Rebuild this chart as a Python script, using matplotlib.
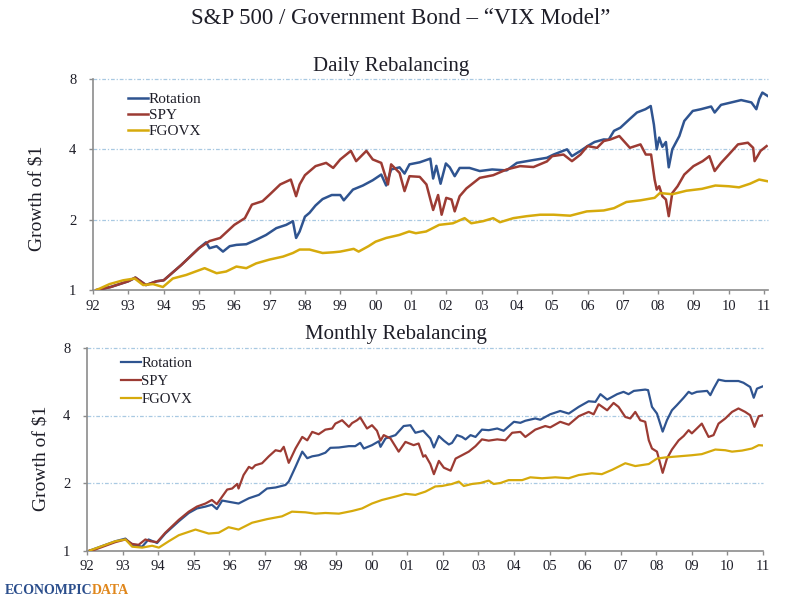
import matplotlib
matplotlib.use("Agg")
import matplotlib.pyplot as plt
from matplotlib.ticker import NullLocator, FixedLocator, FixedFormatter

plt.rcParams['font.family'] = ['Liberation Serif', 'DejaVu Serif']

# ---------------- Daily rebalancing (top) ----------------
rot_d_t = [1992.1, 1992.5, 1993.0, 1993.2, 1993.5, 1993.8, 1994.0, 1994.5, 1995.0, 1995.2,
           1995.3, 1995.5, 1995.68, 1995.87, 1996.06, 1996.34, 1996.62, 1996.9, 1997.19, 1997.47,
           1997.66, 1997.75, 1997.85, 1998.0, 1998.13, 1998.3, 1998.5, 1998.76, 1999.0, 1999.1,
           1999.36, 1999.64, 1999.92, 2000.16, 2000.3, 2000.44, 2000.68, 2000.82, 2000.96, 2001.25,
           2001.55, 2001.63, 2001.72, 2001.84, 2001.99, 2002.1, 2002.24, 2002.38, 2002.66, 2002.95,
           2003.3, 2003.71, 2004.0, 2004.47, 2004.85, 2005.04, 2005.42, 2005.56, 2005.8, 2006.0,
           2006.2, 2006.46, 2006.6, 2006.75, 2006.93, 2007.2, 2007.4, 2007.64, 2007.79, 2007.88,
           2007.96, 2008.03, 2008.12, 2008.22, 2008.3, 2008.4, 2008.6, 2008.74, 2008.98, 2009.21,
           2009.5, 2009.6, 2009.78, 2010.07, 2010.35, 2010.64, 2010.78, 2010.86, 2010.95, 2011.1]
rot_d_v = [1.00, 1.03, 1.09, 1.13, 1.05, 1.09, 1.10, 1.28, 1.51, 1.60,
           1.51, 1.54, 1.46, 1.54, 1.56, 1.57, 1.64, 1.72, 1.84, 1.90,
           1.97, 1.67, 1.78, 2.06, 2.14, 2.30, 2.45, 2.55, 2.55, 2.42,
           2.69, 2.80, 2.95, 3.12, 2.80, 3.28, 3.35, 3.15, 3.45, 3.52,
           3.65, 3.00, 3.40, 2.85, 3.48, 3.35, 3.07, 3.33, 3.33, 3.23,
           3.28, 3.25, 3.50, 3.60, 3.68, 3.80, 4.00, 3.74, 3.94, 4.13,
           4.30, 4.41, 4.40, 4.80, 4.95, 5.40, 5.75, 5.94, 6.13, 5.10,
           4.00, 4.49, 4.10, 4.30, 3.35, 4.00, 4.56, 5.29, 5.84, 5.94,
           6.10, 5.75, 6.20, 6.35, 6.50, 6.35, 5.94, 6.56, 7.00, 6.77]

spy_d_t = [1992.1, 1992.5, 1993.0, 1993.2, 1993.5, 1993.8, 1994.0, 1994.5, 1995.0, 1995.3,
           1995.6, 1996.0, 1996.3, 1996.5, 1996.8, 1997.0, 1997.3, 1997.6, 1997.75, 1997.85,
           1998.0, 1998.3, 1998.6, 1998.8, 1999.0, 1999.3, 1999.45, 1999.74, 1999.92, 2000.16,
           2000.35, 2000.44, 2000.68, 2000.82, 2000.96, 2001.25, 2001.44, 2001.63, 2001.77, 2001.87,
           2002.0, 2002.15, 2002.24, 2002.38, 2002.57, 2002.95, 2003.33, 2003.71, 2004.09, 2004.47,
           2004.85, 2005.0, 2005.32, 2005.56, 2005.8, 2006.0, 2006.27, 2006.46, 2006.65, 2006.9,
           2007.2, 2007.5, 2007.65, 2007.8, 2007.9, 2007.96, 2008.03, 2008.12, 2008.22, 2008.3,
           2008.4, 2008.55, 2008.74, 2009.0, 2009.26, 2009.45, 2009.6, 2009.78, 2010.0, 2010.26,
           2010.54, 2010.69, 2010.73, 2010.9, 2011.07]
spy_d_v = [1.00, 1.03, 1.09, 1.13, 1.05, 1.09, 1.10, 1.28, 1.51, 1.62,
           1.67, 1.90, 2.03, 2.32, 2.40, 2.56, 2.83, 2.97, 2.52, 2.83,
           3.10, 3.39, 3.50, 3.33, 3.62, 3.94, 3.56, 3.94, 3.62, 3.50,
           2.83, 3.45, 3.17, 2.65, 3.07, 3.05, 2.83, 2.20, 2.55, 2.10,
           2.48, 2.44, 2.17, 2.52, 2.72, 3.02, 3.10, 3.28, 3.39, 3.36,
           3.55, 3.74, 3.80, 3.56, 3.80, 4.13, 4.06, 4.34, 4.41, 4.56,
           4.06, 4.20, 3.80, 3.80, 2.97, 2.69, 2.78, 2.52, 2.44, 2.07,
           2.60, 2.78, 3.12, 3.39, 3.56, 3.74, 3.23, 3.50, 3.80, 4.20,
           4.27, 4.06, 3.56, 3.94, 4.13]

gov_d_t = [1992.1, 1992.47, 1992.85, 1993.18, 1993.42, 1993.7, 1993.98, 1994.26, 1994.64, 1995.16,
           1995.5, 1995.77, 1996.06, 1996.34, 1996.62, 1997.0, 1997.38, 1997.66, 1997.85, 1998.13,
           1998.5, 1998.8, 1999.0, 1999.38, 1999.52, 1999.8, 2000.0, 2000.3, 2000.67, 2000.95,
           2001.14, 2001.43, 2001.8, 2002.19, 2002.52, 2002.71, 2003.04, 2003.33, 2003.52, 2003.9,
           2004.28, 2004.66, 2005.04, 2005.51, 2005.98, 2006.46, 2006.75, 2007.1, 2007.5, 2007.9,
           2008.05, 2008.4, 2008.8, 2009.24, 2009.62, 2010.0, 2010.29, 2010.6, 2010.86, 2011.1]
gov_d_v = [1.00, 1.06, 1.10, 1.12, 1.05, 1.06, 1.03, 1.12, 1.16, 1.24,
           1.18, 1.20, 1.26, 1.24, 1.30, 1.35, 1.39, 1.44, 1.49, 1.49,
           1.44, 1.45, 1.46, 1.50, 1.46, 1.54, 1.61, 1.67, 1.72, 1.78,
           1.75, 1.78, 1.90, 1.93, 2.03, 1.93, 1.97, 2.03, 1.95, 2.03,
           2.07, 2.10, 2.10, 2.08, 2.17, 2.19, 2.24, 2.38, 2.42, 2.48,
           2.60, 2.57, 2.66, 2.71, 2.80, 2.78, 2.75, 2.85, 2.97, 2.92]

# ---------------- Monthly rebalancing (bottom) ----------------
rot_m_t = [1992.08, 1992.52, 1992.8, 1993.08, 1993.27, 1993.55, 1993.73, 1993.97, 1994.2, 1994.58,
           1994.86, 1995.09, 1995.33, 1995.51, 1995.65, 1995.8, 1995.98, 1996.26, 1996.55, 1996.83,
           1997.06, 1997.3, 1997.58, 1997.67, 1997.86, 1998.05, 1998.19, 1998.33, 1998.51, 1998.7,
           1998.84, 1999.08, 1999.36, 1999.54, 1999.68, 1999.78, 2000.01, 2000.2, 2000.25, 2000.39,
           2000.67, 2000.9, 2001.09, 2001.23, 2001.45, 2001.65, 2001.75, 2001.89, 2002.03, 2002.17,
           2002.26, 2002.4, 2002.54, 2002.64, 2002.78, 2002.92, 2003.1, 2003.29, 2003.53, 2003.71,
           2004.0, 2004.18, 2004.32, 2004.6, 2004.74, 2005.02, 2005.3, 2005.54, 2005.82, 2006.1,
           2006.29, 2006.43, 2006.62, 2006.9, 2007.08, 2007.22, 2007.37, 2007.69, 2007.77, 2007.88,
           2008.02, 2008.18, 2008.3, 2008.44, 2008.58, 2008.77, 2008.91, 2009.0, 2009.14, 2009.43,
           2009.52, 2009.61, 2009.75, 2009.94, 2010.31, 2010.45, 2010.64, 2010.74, 2010.83, 2011.0]
rot_m_v = [1.00, 1.06, 1.10, 1.13, 1.06, 1.04, 1.12, 1.08, 1.19, 1.35,
           1.47, 1.54, 1.57, 1.60, 1.53, 1.67, 1.65, 1.62, 1.71, 1.77,
           1.89, 1.91, 1.96, 2.03, 2.36, 2.76, 2.58, 2.63, 2.66, 2.73,
           2.87, 2.88, 2.92, 2.92, 3.02, 2.85, 2.95, 3.07, 2.90, 3.16,
           3.27, 3.59, 3.62, 3.35, 3.42, 3.16, 2.88, 3.24, 3.09, 2.97,
           3.02, 3.27, 3.21, 3.13, 3.27, 3.21, 3.46, 3.44, 3.50, 3.42,
           3.75, 3.71, 3.79, 3.88, 3.83, 4.05, 4.19, 4.08, 4.37, 4.63,
           4.60, 4.98, 4.71, 4.98, 5.10, 4.98, 5.15, 5.22, 5.19, 4.37,
           4.08, 3.39, 3.81, 4.22, 4.45, 4.80, 5.10, 5.00, 5.10, 5.15,
           4.93, 5.27, 5.78, 5.70, 5.70, 5.60, 5.36, 4.80, 5.27, 5.40]

spy_m_t = [1992.08, 1992.23, 1992.52, 1992.8, 1993.08, 1993.27, 1993.45, 1993.64, 1993.78, 1993.97,
           1994.2, 1994.58, 1994.86, 1995.09, 1995.33, 1995.51, 1995.65, 1995.8, 1995.94, 1996.08,
           1996.22, 1996.26, 1996.4, 1996.55, 1996.64, 1996.73, 1996.92, 1997.11, 1997.3, 1997.44,
           1997.53, 1997.67, 1997.86, 1998.05, 1998.19, 1998.33, 1998.51, 1998.7, 1998.89, 1998.98,
           1999.17, 1999.36, 1999.45, 1999.59, 1999.68, 1999.87, 2000.01, 2000.15, 2000.25, 2000.34,
           2000.53, 2000.76, 2000.95, 2001.18, 2001.32, 2001.45, 2001.51, 2001.65, 2001.75, 2001.89,
           2002.03, 2002.22, 2002.36, 2002.54, 2002.73, 2002.92, 2003.1, 2003.29, 2003.53, 2003.76,
           2003.95, 2004.18, 2004.32, 2004.6, 2004.88, 2005.02, 2005.3, 2005.54, 2005.82, 2006.1,
           2006.24, 2006.38, 2006.62, 2006.8, 2006.94, 2007.13, 2007.27, 2007.41, 2007.55, 2007.69,
           2007.79, 2007.88, 2008.02, 2008.18, 2008.3, 2008.44, 2008.63, 2008.77, 2008.91, 2009.0,
           2009.14, 2009.28, 2009.47, 2009.61, 2009.75, 2009.94, 2010.13, 2010.31, 2010.5, 2010.64,
           2010.76, 2010.88, 2011.0]
spy_m_v = [1.00, 1.01, 1.05, 1.09, 1.12, 1.07, 1.06, 1.12, 1.10, 1.09,
           1.20, 1.37, 1.49, 1.57, 1.62, 1.68, 1.61, 1.74, 1.87, 1.89,
           1.98, 1.89, 2.17, 2.36, 2.32, 2.40, 2.45, 2.63, 2.80, 2.77,
           2.90, 2.46, 2.85, 3.21, 3.10, 3.38, 3.30, 3.46, 3.50, 3.68,
           3.81, 3.56, 3.70, 3.81, 3.92, 3.50, 3.62, 3.42, 3.09, 3.27,
           3.16, 2.76, 3.05, 2.95, 3.00, 2.62, 2.66, 2.43, 2.19, 2.51,
           2.34, 2.27, 2.57, 2.66, 2.76, 2.92, 3.13, 3.09, 3.13, 3.10,
           3.35, 3.38, 3.21, 3.46, 3.59, 3.54, 3.75, 3.64, 3.97, 4.15,
           4.05, 4.49, 4.22, 4.55, 4.37, 3.94, 3.88, 4.15, 3.81, 3.75,
           3.10, 2.85, 2.76, 2.22, 2.57, 2.82, 3.10, 3.24, 3.44, 3.33,
           3.50, 3.68, 3.21, 3.27, 3.68, 3.88, 4.15, 4.30, 4.15, 4.01,
           3.56, 3.97, 4.01]

gov_m_t = [1992.08, 1992.52, 1992.8, 1993.08, 1993.27, 1993.55, 1993.83, 1994.02, 1994.3, 1994.58,
           1995.05, 1995.42, 1995.7, 1995.98, 1996.26, 1996.64, 1997.06, 1997.48, 1997.76, 1998.14,
           1998.42, 1998.7, 1999.08, 1999.45, 1999.73, 2000.01, 2000.29, 2000.67, 2000.95, 2001.23,
           2001.51, 2001.79, 2001.98, 2002.26, 2002.45, 2002.59, 2002.82, 2003.06, 2003.29, 2003.43,
           2003.62, 2003.85, 2004.23, 2004.46, 2004.79, 2005.16, 2005.54, 2005.82, 2006.19, 2006.47,
           2006.76, 2007.13, 2007.41, 2007.79, 2008.02, 2008.25, 2008.63, 2009.0, 2009.28, 2009.66,
           2009.94, 2010.13, 2010.41, 2010.69, 2010.88, 2011.0]
gov_m_v = [1.00, 1.06, 1.10, 1.12, 1.04, 1.03, 1.05, 1.03, 1.10, 1.17,
           1.24, 1.19, 1.20, 1.27, 1.24, 1.33, 1.38, 1.42, 1.49, 1.48,
           1.46, 1.47, 1.46, 1.50, 1.54, 1.62, 1.68, 1.74, 1.79, 1.77,
           1.83, 1.93, 1.94, 1.98, 2.03, 1.94, 1.98, 2.00, 2.05, 1.98,
           2.00, 2.06, 2.06, 2.12, 2.10, 2.12, 2.10, 2.17, 2.21, 2.19,
           2.29, 2.45, 2.38, 2.43, 2.57, 2.60, 2.63, 2.66, 2.69, 2.82,
           2.80, 2.76, 2.79, 2.85, 2.95, 2.94]

series_names = ["Rotation", "SPY", "FGOVX"]
year_ticks = list(range(1992, 2012))
year_labels = ["%02d" % (y % 100) for y in year_ticks]
y_ticks = [1, 2, 4, 8]
y_labels = ["1", "2", "4", "8"]

C_ROT = "#2F5490"
C_SPY = "#9C3B33"
C_GOV = "#D6AA0C"
C_GRID = "#A9C9E2"
C_SPINE = "#8C8C8C"
C_TXT = "#1E1E28"

W, H = 800, 603
fig = plt.figure(figsize=(8.0, 6.03), dpi=100)
fig.patch.set_facecolor("white")


def px_axes(l, r, t, b):
    return fig.add_axes([l / W, 1 - b / H, (r - l) / W, (b - t) / H])


def style(ax, xmax):
    ax.set_yscale("log", base=2)
    ax.set_ylim(1, 8)
    ax.set_xlim(1992.0, xmax)
    ax.yaxis.set_major_locator(FixedLocator(y_ticks))
    ax.yaxis.set_major_formatter(FixedFormatter(y_labels))
    ax.yaxis.set_minor_locator(NullLocator())
    ax.xaxis.set_major_locator(FixedLocator(year_ticks))
    ax.xaxis.set_major_formatter(FixedFormatter(year_labels))
    ax.xaxis.set_minor_locator(NullLocator())
    for s in ["top", "right"]:
        ax.spines[s].set_visible(False)
    for s in ["left", "bottom"]:
        ax.spines[s].set_color(C_SPINE)
        ax.spines[s].set_linewidth(1.2)
    ax.tick_params(axis="both", direction="out", length=3, width=1, color=C_SPINE,
                   labelsize=10.5, labelcolor=C_TXT)
    ax.tick_params(axis="x", pad=4)
    ax.tick_params(axis="y", pad=9)
    for yv in [2, 4, 8]:
        ax.axhline(yv, color=C_GRID, lw=0.9, ls=(0, (3, 1.5, 1, 1.5)), zorder=0, clip_on=False)
    ax.set_ylabel("Growth of $1", fontsize=14, color=C_TXT)


# top axes
ax1 = px_axes(93, 768, 79, 290)
style(ax1, 2011.11)
ax1.plot(rot_d_t, rot_d_v, color=C_ROT, lw=1.8, label=series_names[0], zorder=3)
ax1.plot(spy_d_t, spy_d_v, color=C_SPY, lw=1.8, label=series_names[1], zorder=3)
ax1.plot(gov_d_t, gov_d_v, color=C_GOV, lw=1.8, label=series_names[2], zorder=3)
ax1.yaxis.set_label_coords(-0.07, 0.436)
ax1.legend(loc="upper left", bbox_to_anchor=(0.052, 0.937), frameon=False, fontsize=11,
           handlelength=1.3, handletextpad=0.05, borderpad=0, borderaxespad=0,
           labelspacing=0.15, labelcolor=C_TXT)

# bottom axes
ax2 = px_axes(87, 763, 348, 550.5)
style(ax2, 2011.0)
ax2.plot(rot_m_t, rot_m_v, color=C_ROT, lw=1.6, label=series_names[0], zorder=3)
ax2.plot(spy_m_t, spy_m_v, color=C_SPY, lw=1.6, label=series_names[1], zorder=3)
ax2.plot(gov_m_t, gov_m_v, color=C_GOV, lw=1.6, label=series_names[2], zorder=3)
ax2.yaxis.set_label_coords(-0.056, 0.457)
ax2.legend(loc="upper left", bbox_to_anchor=(0.05, 0.957), frameon=False, fontsize=10.6,
           handlelength=1.35, handletextpad=0.05, borderpad=0, borderaxespad=0,
           labelspacing=0.33, labelcolor=C_TXT)

# titles
fig.text(401 / W, 1 - 18 / H, "S&P 500 / Government Bond \u2013 \u201cVIX Model\u201d",
         ha="center", va="center", fontsize=16.5, color=C_TXT)
fig.text(391 / W, 1 - 67 / H, "Daily Rebalancing", ha="center", va="center",
         fontsize=15, color=C_TXT)
fig.text(396 / W, 1 - 334 / H, "Monthly Rebalancing", ha="center", va="center",
         fontsize=15, color=C_TXT)

# logo
fig.text(5 / W, 1 - 590 / H, "ECONOMPIC", ha="left", va="center", fontsize=10,
         fontweight="bold", color="#2B4E8C")
fig.text(92 / W, 1 - 590 / H, "DATA", ha="left", va="center", fontsize=10,
         fontweight="bold", color="#E0871C")

fig.savefig("out.png", dpi=100, facecolor="white")
